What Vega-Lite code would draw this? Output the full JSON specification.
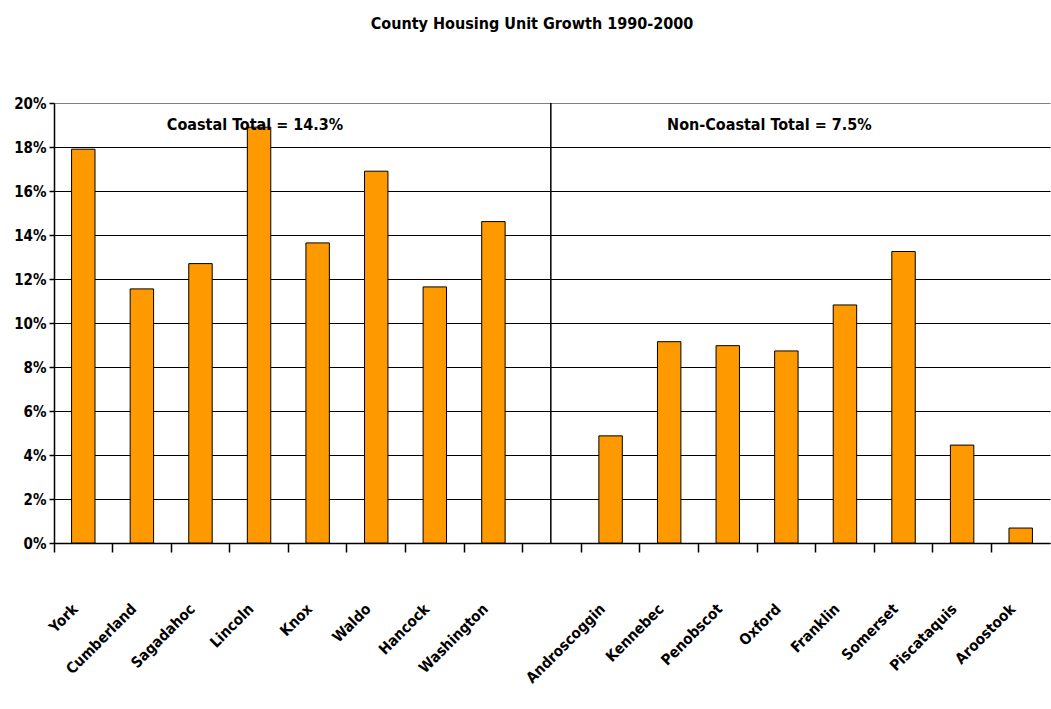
{
  "$schema": "https://vega.github.io/schema/vega-lite/v6.json",
  "width": 996,
  "height": 440,
  "autosize": {"type": "none"},
  "padding": {"left": 54, "top": 103, "right": 1, "bottom": 166},
  "background": "white",
  "title": {
    "text": "County Housing Unit Growth 1990-2000",
    "fontSize": 16,
    "fontWeight": "bold",
    "anchor": "middle",
    "offset": 64,
    "dx": -20,
    "color": "black",
    "font": "Liberation Sans Narrow, DejaVu Sans Condensed, sans-serif"
  },
  "config": {
    "view": {"stroke": null},
    "font": "Liberation Sans Narrow, DejaVu Sans Condensed, sans-serif"
  },
  "layer": [
    {
      "data": {
        "values": [
          {"county": "York", "growth": 17.9},
          {"county": "Cumberland", "growth": 11.55},
          {"county": "Sagadahoc", "growth": 12.7},
          {"county": "Lincoln", "growth": 18.9},
          {"county": "Knox", "growth": 13.64},
          {"county": "Waldo", "growth": 16.9},
          {"county": "Hancock", "growth": 11.64},
          {"county": "Washington", "growth": 14.61},
          {"county": "Androscoggin", "growth": 4.87},
          {"county": "Kennebec", "growth": 9.15},
          {"county": "Penobscot", "growth": 8.97},
          {"county": "Oxford", "growth": 8.73},
          {"county": "Franklin", "growth": 10.82},
          {"county": "Somerset", "growth": 13.25},
          {"county": "Piscataquis", "growth": 4.45},
          {"county": "Aroostook", "growth": 0.68}
        ]
      },
      "mark": {"type": "bar", "width": {"band": 0.4}, "fill": "#FF9900", "stroke": "black", "strokeWidth": 1},
      "encoding": {
        "x": {
          "field": "county",
          "type": "nominal",
          "title": null,
          "scale": {
            "domain": ["York", "Cumberland", "Sagadahoc", "Lincoln", "Knox", "Waldo", "Hancock", "Washington", " ", "Androscoggin", "Kennebec", "Penobscot", "Oxford", "Franklin", "Somerset", "Piscataquis", "Aroostook"],
            "paddingInner": 0,
            "paddingOuter": 0
          },
          "axis": {
            "bandPosition": 0,
            "domainColor": "black",
            "domainWidth": 1.5,
            "tickColor": "black",
            "tickWidth": 1.5,
            "tickSize": 9,
            "labelAngle": -45,
            "labelAlign": "right",
            "labelBaseline": "middle",
            "labelOffset": -8,
            "labelPadding": 54,
            "labelFontSize": 15,
            "labelFontWeight": "bold",
            "labelColor": "black",
            "labelOverlap": false,
            "labelBound": false
          }
        },
        "y": {
          "field": "growth",
          "type": "quantitative",
          "title": null,
          "scale": {"domain": [0, 20], "nice": false},
          "axis": {
            "values": [0, 2, 4, 6, 8, 10, 12, 14, 16, 18, 20],
            "labelExpr": "datum.value + '%'",
            "grid": true,
            "gridColor": {"condition": {"test": "datum.value >= 20", "value": "#808080"}, "value": "black"},
            "gridWidth": 1.2,
            "gridOpacity": 1,
            "domainColor": "black",
            "domainWidth": 1.5,
            "tickColor": "black",
            "tickWidth": 1.5,
            "tickSize": 5,
            "labelPadding": 3,
            "labelFontSize": 15,
            "labelFontWeight": "bold",
            "labelColor": "black"
          }
        }
      }
    },
    {
      "data": {"values": [{"label": "Coastal Total = 14.3%"}]},
      "mark": {"type": "text", "fontSize": 16, "fontWeight": "bold", "color": "black", "baseline": "middle", "align": "center", "dx": -4},
      "encoding": {
        "x": {"datum": "Lincoln", "type": "nominal"},
        "y": {"datum": 19.0, "type": "quantitative"},
        "text": {"field": "label"}
      }
    },
    {
      "data": {"values": [{"label": "Non-Coastal Total = 7.5%"}]},
      "mark": {"type": "text", "fontSize": 16, "fontWeight": "bold", "color": "black", "baseline": "middle", "align": "center", "dx": -17},
      "encoding": {
        "x": {"datum": "Oxford", "type": "nominal"},
        "y": {"datum": 19.0, "type": "quantitative"},
        "text": {"field": "label"}
      }
    },
    {
      "data": {"values": [{"side": "divider"}]},
      "mark": {"type": "rule", "color": "black", "strokeWidth": 1.5},
      "encoding": {
        "x": {"datum": " ", "type": "nominal", "bandPosition": 0.48},
        "y": {"datum": 0, "type": "quantitative"},
        "y2": {"datum": 20}
      }
    }
  ]
}
